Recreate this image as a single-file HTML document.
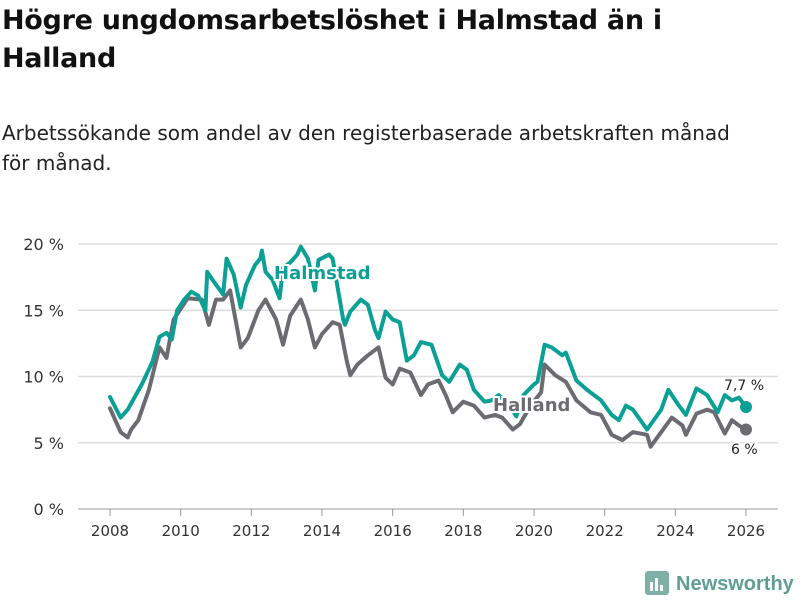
<!DOCTYPE html>
<html><head><meta charset="utf-8">
<style>
body{margin:0;background:#fff;font-family:"DejaVu Sans","Liberation Sans",sans-serif;}
#wrap{position:relative;width:800px;height:600px;overflow:hidden;}
h1{position:absolute;left:2px;top:2px;margin:0;font-size:27px;line-height:38px;font-weight:bold;color:#111;width:720px;letter-spacing:-0.3px;}
p.sub{position:absolute;left:2px;top:118px;margin:0;font-size:20px;line-height:30px;color:#222;width:740px;}
svg{position:absolute;left:0;top:0;font-family:"DejaVu Sans","Liberation Sans",sans-serif;}
</style></head><body>
<div id="wrap">
<h1>Högre ungdomsarbetslöshet i Halmstad än i Halland</h1>
<p class="sub">Arbetssökande som andel av den registerbaserade arbetskraften månad för månad.</p>
<svg id="chart" width="800" height="600"></svg>
</div>
<script>
const yTicks=[0,5,10,15,20];
const yTickLabels=["0 %","5 %","10 %","15 %","20 %"];
const xTicks=[2008,2010,2012,2014,2016,2018,2020,2022,2024,2026];
const halmstadT=[2008,2008.3,2008.5,2008.9,2009.2,2009.4,2009.6,2009.75,2009.9,2010.1,2010.3,2010.5,2010.7,2010.75,2010.9,2011.2,2011.3,2011.5,2011.7,2011.85,2012.1,2012.25,2012.3,2012.4,2012.6,2012.8,2012.9,2013.1,2013.3,2013.4,2013.6,2013.8,2013.9,2014.2,2014.3,2014.6,2014.65,2014.8,2015.1,2015.3,2015.5,2015.6,2015.8,2016,2016.2,2016.4,2016.6,2016.8,2017.1,2017.4,2017.6,2017.9,2018.1,2018.3,2018.6,2018.8,2019,2019.3,2019.5,2019.7,2020,2020.1,2020.3,2020.5,2020.8,2020.9,2021.2,2021.5,2021.9,2022.2,2022.4,2022.6,2022.8,2023.2,2023.6,2023.8,2024.1,2024.3,2024.6,2024.9,2025.2,2025.4,2025.6,2025.8,2026];
const halmstadV=[8.45,6.9,7.5,9.4,11.1,13.0,13.3,12.8,15.0,15.8,16.4,16.1,15.0,17.9,17.3,16.2,18.9,17.7,15.2,16.9,18.4,18.9,19.5,17.9,17.3,15.9,18.2,18.6,19.2,19.8,18.9,16.5,18.8,19.2,18.9,14.3,13.9,14.9,15.8,15.4,13.5,12.9,14.9,14.3,14.1,11.2,11.6,12.6,12.4,10.1,9.6,10.9,10.5,9.0,8.1,8.2,8.6,7.8,7.0,8.6,9.4,9.6,12.4,12.2,11.6,11.8,9.7,9.0,8.2,7.1,6.7,7.8,7.5,6.0,7.5,9.0,7.8,7.1,9.1,8.6,7.3,8.6,8.2,8.4,7.7];
const hallandT=[2008,2008.3,2008.5,2008.6,2008.8,2009.1,2009.4,2009.6,2009.8,2010.2,2010.6,2010.8,2011,2011.2,2011.4,2011.7,2011.9,2012.2,2012.4,2012.7,2012.9,2013.1,2013.4,2013.6,2013.8,2014,2014.3,2014.5,2014.7,2014.8,2015,2015.3,2015.6,2015.8,2016,2016.2,2016.5,2016.8,2017,2017.3,2017.5,2017.7,2018,2018.3,2018.6,2018.9,2019.1,2019.4,2019.6,2019.9,2020.2,2020.3,2020.6,2020.9,2021.2,2021.6,2021.9,2022.2,2022.5,2022.8,2023.2,2023.3,2023.6,2023.9,2024.2,2024.3,2024.6,2024.9,2025.1,2025.4,2025.6,2025.8,2026];
const hallandV=[7.6,5.8,5.4,6.0,6.7,9.0,12.2,11.4,14.3,15.9,15.8,13.9,15.8,15.8,16.5,12.2,12.9,15.0,15.8,14.3,12.4,14.6,15.8,14.3,12.2,13.2,14.1,13.9,11.2,10.1,10.9,11.6,12.2,9.9,9.4,10.6,10.3,8.6,9.4,9.7,8.6,7.3,8.1,7.8,6.9,7.1,6.9,6.0,6.4,7.8,8.8,10.9,10.1,9.6,8.2,7.3,7.1,5.6,5.2,5.8,5.6,4.7,5.8,6.9,6.3,5.6,7.2,7.5,7.3,5.7,6.7,6.3,6.0];

const svg=document.getElementById('chart');
const NS='http://www.w3.org/2000/svg';
const X=t=>110+(t-2008)*(636/18);
const Y=v=>509-v*13.25;
function mk(tag,attrs,txt){const e=document.createElementNS(NS,tag);for(const k in attrs)e.setAttribute(k,attrs[k]);if(txt!==undefined)e.textContent=txt;svg.appendChild(e);return e;}
yTicks.forEach((v,i)=>{
  const g=mk('line',{x1:78,x2:778,y1:Y(v),y2:Y(v),stroke:v===0?'#bbb':'#ddd','stroke-width':1.5});
  
  
  const t=mk('text',{x:64,y:Y(v)+6,'text-anchor':'end','font-size':16,fill:'#333'},yTickLabels[i]);
  
  
});
xTicks.forEach(yr=>{
  const l=mk('line',{x1:X(yr),x2:X(yr),y1:509,y2:516,stroke:'#999','stroke-width':1});
  
  
  const t=mk('text',{x:X(yr),y:536,'text-anchor':'middle','font-size':15,fill:'#333'},String(yr));
  
  
});
function line(ts,vs,col,name){
  const d=ts.map((t,i)=>(i?'L':'M')+X(t).toFixed(1)+','+Y(vs[i]).toFixed(1)).join('');
  const p=mk('path',{d:d,fill:'none',stroke:col,'stroke-width':4,'stroke-linejoin':'round','stroke-linecap':'round'});
  
  
  const n=ts.length-1;
  const c=mk('circle',{cx:X(ts[n]),cy:Y(vs[n]),r:6,fill:col});
  
  
}
line(hallandT,hallandV,'#6d6b72','halland');
line(halmstadT,halmstadV,'#0aa096','halmstad');
function lab(x,y,txt,col,name,size,weight){
  const t=mk('text',{x:x,y:y,'font-size':size,'font-weight':weight,fill:col,stroke:'#fff','stroke-width':4,'paint-order':'stroke'},txt);
  
  
}
lab(274,279,'Halmstad','#0aa096','halmstad-label',18,'bold');
lab(493,411,'Halland','#6d6b72','halland-label',18,'bold');
lab(724,390,'7,7 %','#222','halmstad-end-value',14,'normal');
lab(731,454,'6 %','#222','halland-end-value',14,'normal');
</script>
<svg width="800" height="600" style="position:absolute;left:0;top:0;pointer-events:none">
<rect x="645" y="571" width="24" height="24" rx="3" fill="#7fb0a8"/>
<rect x="650" y="582" width="3" height="9" fill="#fff"/><rect x="655" y="578" width="3" height="13" fill="#fff"/><rect x="660" y="585" width="3" height="6" fill="#fff"/>
<text x="676" y="590" font-size="20" font-weight="bold" fill="#5f9e95" font-family="Liberation Sans, sans-serif">Newsworthy</text>
</svg>
</body></html>
